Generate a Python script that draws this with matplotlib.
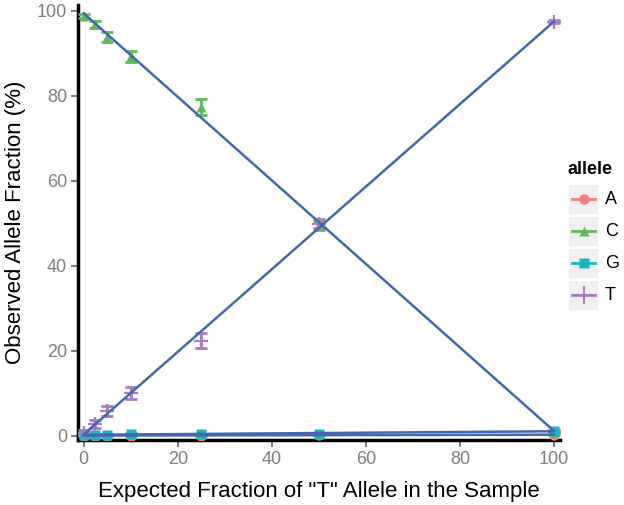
import numpy as np
import matplotlib
matplotlib.use("Agg")
import matplotlib.pyplot as plt
from matplotlib.patches import Rectangle

plt.rcParams['font.family'] = ['Liberation Sans', 'DejaVu Sans']

expected = [0, 2.5, 5, 10, 25, 50, 100]
alleles = ["A", "C", "G", "T"]
obs_A = [0.1, 0.1, 0.1, 0.1, 0.1, 0.2, 0.3]
obs_C = [98.8, 96.8, 93.8, 89.2, 77.4, 49.5, 1.0]
obs_G = [0.3, 0.3, 0.3, 0.5, 0.4, 0.5, 1.2]
obs_T = [0.8, 2.8, 5.9, 10.1, 22.4, 49.9, 97.4]
sd_A = [0.05, 0.05, 0.05, 0.05, 0.05, 0.05, 0.1]
sd_C = [0.5, 0.8, 1.1, 1.3, 1.9, 1.0, 0.3]
sd_G = [0.1, 0.1, 0.1, 0.2, 0.1, 0.1, 0.2]
sd_T = [0.5, 0.9, 1.2, 1.3, 1.8, 1.0, 0.4]

colors = {"A": "#F47E7A", "C": "#5DBB5A", "G": "#1BB6C0", "T": "#A87CC0"}
markers = {"A": "o", "C": "^", "G": "s", "T": "+"}
obs = {"A": obs_A, "C": obs_C, "G": obs_G, "T": obs_T}
sds = {"A": sd_A, "C": sd_C, "G": sd_G, "T": sd_T}
line_color = "#4268B0"

fig = plt.figure(figsize=(6.24, 5.05), dpi=100)
ax = fig.add_axes([78/624, 1-440/505, (560-78)/624, (440-5)/505])

x = np.array(expected)
for a in alleles:
    y = np.array(obs[a])
    e = np.array(sds[a])
    c = colors[a]
    ax.errorbar(x, y, yerr=e, fmt='none', ecolor=c, elinewidth=2, capsize=4.5, capthick=2, zorder=3)
    if markers[a] == "+":
        ax.plot(x, y, linestyle='none', marker='+', ms=10, mew=1.6, color=c, zorder=4)
    else:
        ax.plot(x, y, linestyle='none', marker=markers[a], ms=7.5, color=c, mec='none', zorder=4)

for a in alleles:
    y = np.array(obs[a])
    k, b = np.polyfit(x, y, 1)
    xs = np.array([0, 100])
    ax.plot(xs, k*xs + b, color=line_color, lw=1.8, zorder=5)

ax.set_xlim(-1.2, 101.3)
ax.set_ylim(-0.95, 101.3)
ax.set_xticks([0, 20, 40, 60, 80, 100])
ax.set_yticks([0, 20, 40, 60, 80, 100])
for s in ['top', 'right']:
    ax.spines[s].set_visible(False)
for s in ['left', 'bottom']:
    ax.spines[s].set_linewidth(2.5)
    ax.spines[s].set_color('black')
ax.tick_params(axis='both', colors='#7F7F7F', labelsize=13, length=5, width=1.5, pad=3)
ax.tick_params(axis='both', labelcolor='#7F7F7F')
ax.set_xlabel('Expected Fraction of "T" Allele in the Sample', fontsize=16, color='black', labelpad=9)
ax.set_ylabel('Observed Allele Fraction (%)', fontsize=16, color='black', labelpad=8)

# legend (pixel coords)
lax = fig.add_axes([0, 0, 1, 1], facecolor='none')
lax.set_xlim(0, 624)
lax.set_ylim(505, 0)
lax.axis('off')
lax.text(567, 170, "allele", fontsize=13, fontweight='bold', va='center', ha='left')
key_y = [199, 231, 263, 295]
for a, ky in zip(alleles, key_y):
    lax.add_patch(Rectangle((569, ky-14.5), 29, 29, facecolor='#F0F0F0', edgecolor='none'))
    c = colors[a]
    lax.plot([572, 595], [ky, ky], color=c, lw=2)
    if markers[a] == "+":
        lax.plot([583.5], [ky], marker='+', ms=13, mew=1.4, color=c, linestyle='none')
    else:
        lax.plot([583.5], [ky], marker=markers[a], ms=7.5, color=c, mec='none', linestyle='none')
    lax.text(605, ky, a, fontsize=13, va='center', ha='left')

fig.savefig("out.png", dpi=100)
